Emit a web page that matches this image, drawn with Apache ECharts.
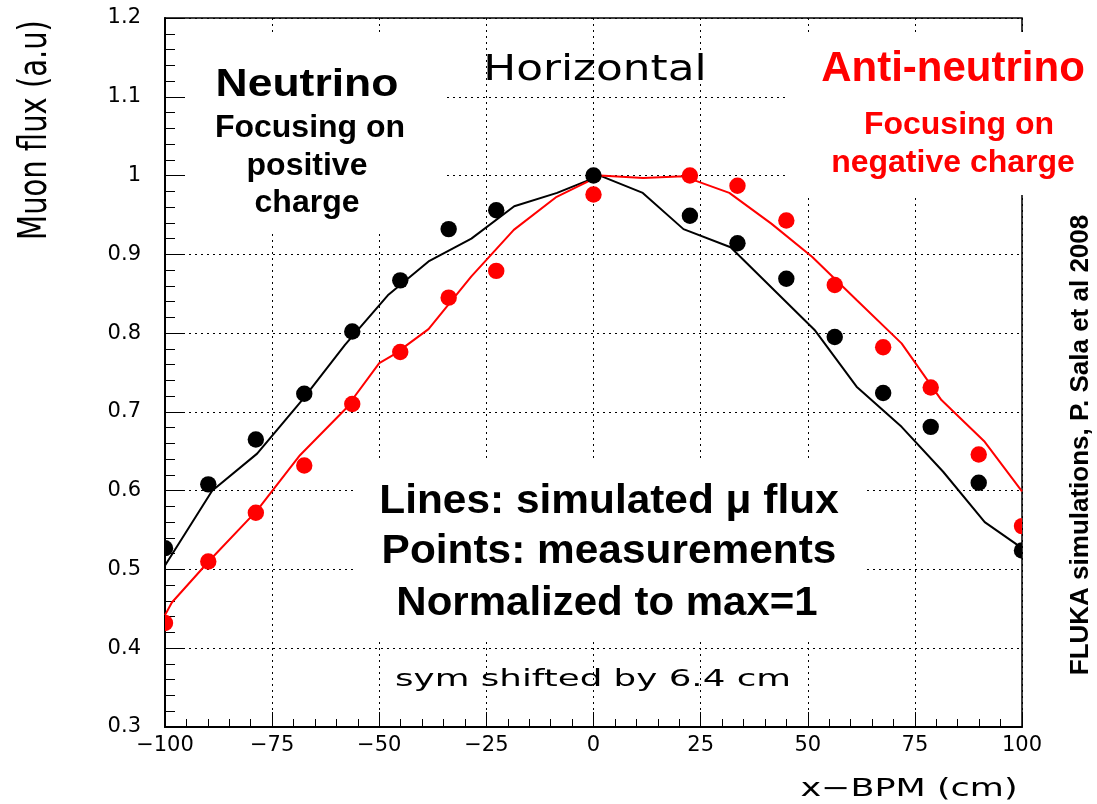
<!DOCTYPE html>
<html>
<head>
<meta charset="utf-8">
<script src="https://cdn.jsdelivr.net/npm/echarts@6/dist/echarts.min.js"></script>
<style>
  html, body { margin: 0; padding: 0; background: #fff; }
  #muonChart { width: 1097px; height: 804px; }
</style>
</head>
<body>
<div id="muonChart"></div>
<script>
// axis ranges
var xMin = -100, xMax = 100, xStep = 25;
var yMin = 0.3, yMax = 1.2, yStep = 0.1;

// simulated flux (lines), neutrino = black, anti-neutrino = red
var simX_nu = [-100, -89, -78.5, -68, -58, -48, -38.5, -28.5, -18.5, -8.5, 1.5, 11.5, 21, 32, 51.6, 61.4, 71.9, 81.6, 91.3, 100];
var simY_nu = [0.505, 0.600, 0.647, 0.715, 0.785, 0.848, 0.891, 0.920, 0.961, 0.978, 1.0, 0.978, 0.932, 0.909, 0.804, 0.732, 0.681, 0.624, 0.560, 0.527];

var simX_anu = [-100, -98.4, -89.5, -78.5, -68.5, -58, -50, -46.5, -38.5, -28.5, -18.6, -8.6, 1.5, 11.6, 21, 31.7, 41.5, 51, 61.4, 71.9, 81.2, 91.3, 100];
var simY_anu = [0.442, 0.458, 0.512, 0.575, 0.645, 0.703, 0.762, 0.773, 0.805, 0.872, 0.931, 0.973, 1.0, 0.997, 0.999, 0.978, 0.939, 0.897, 0.842, 0.787, 0.715, 0.662, 0.599];

// measurements (points)
var measX = [-100, -89.9, -78.8, -67.5, -56.3, -45.1, -33.8, -22.7, 0, 22.5, 33.6, 45, 56.3, 67.6, 78.7, 89.9, 100];
var measY_nu = [0.527, 0.608, 0.665, 0.723, 0.802, 0.867, 0.932, 0.956, 1.0, 0.949, 0.914, 0.869, 0.795, 0.724, 0.681, 0.610, 0.524];
var measY_anu = [0.432, 0.510, 0.572, 0.632, 0.710, 0.776, 0.845, 0.879, 0.976, 1.0, 0.987, 0.943, 0.861, 0.782, 0.731, 0.646, 0.555];

function zip(xs, ys) {
  return xs.map(function (x, i) { return [x, ys[i]]; });
}

var rootFont = '"DejaVu Sans"';
var boldFont = '"Liberation Sans"';

// filled dot; dots sitting on the frame are cut in half like in the original plot
function dotRender(color) {
  return function (params, api) {
    var xv = api.value(0);
    var p = api.coord([xv, api.value(1)]);
    var r = 8.2;
    if (xv <= xMin) {
      return { type: 'sector', shape: { cx: p[0], cy: p[1], r0: 0, r: r, startAngle: -Math.PI / 2, endAngle: Math.PI / 2, clockwise: true }, style: { fill: color } };
    }
    if (xv >= xMax) {
      return { type: 'sector', shape: { cx: p[0], cy: p[1], r0: 0, r: r, startAngle: Math.PI / 2, endAngle: Math.PI * 1.5, clockwise: true }, style: { fill: color } };
    }
    return { type: 'circle', shape: { cx: p[0], cy: p[1], r: r }, style: { fill: color } };
  };
}

function label(text, x, y, font, color, opts) {
  var o = {
    type: 'text',
    x: x, y: y,
    z: 10,
    style: {
      text: text,
      font: font,
      fill: color,
      textAlign: 'center',
      textVerticalAlign: 'middle'
    }
  };
  if (opts) { for (var k in opts) o[k] = opts[k]; }
  return o;
}

function whiteBox(x, y, w, h) {
  return { type: 'rect', z: 1, shape: { x: x, y: y, width: w, height: h }, style: { fill: '#fff' } };
}

var chart = echarts.init(document.getElementById('muonChart'));

var options = {
  backgroundColor: '#fff',
  animation: false,
  grid: {
    left: 165, right: 75, top: 18, bottom: 77,
    show: true,
    borderColor: '#000',
    borderWidth: 1.5,
    backgroundColor: 'transparent'
  },
  xAxis: {
    type: 'value',
    min: xMin, max: xMax, interval: xStep,
    axisLine: { show: true, onZero: false, lineStyle: { color: '#000', width: 2 } },
    axisTick: { show: true, inside: true, length: 15, lineStyle: { color: '#000', width: 1 } },
    minorTick: { show: true, splitNumber: 5, length: 8, lineStyle: { color: '#000', width: 1 } },
    axisLabel: {
      color: '#000', fontFamily: rootFont, fontSize: 21, margin: 8,
      formatter: function (v) { return v < 0 ? '\u2212' + (-v) : String(v); }
    },
    splitLine: { show: true, lineStyle: { color: '#000', width: 1, type: [2, 4] } }
  },
  yAxis: {
    type: 'value',
    min: yMin, max: yMax, interval: yStep,
    axisLine: { show: true, onZero: false, lineStyle: { color: '#000', width: 2 } },
    axisTick: { show: true, inside: true, length: 18, lineStyle: { color: '#000', width: 1 } },
    minorTick: { show: true, splitNumber: 5, length: 10, lineStyle: { color: '#000', width: 1 } },
    axisLabel: { color: '#000', fontFamily: rootFont, fontSize: 21, margin: 24 },
    splitLine: { show: true, lineStyle: { color: '#000', width: 1, type: [2, 4] } }
  },
  series: [
    {
      name: 'sim neutrino', type: 'line', data: zip(simX_nu, simY_nu),
      showSymbol: false, z: 3,
      lineStyle: { color: '#000', width: 2 }
    },
    {
      name: 'sim anti-neutrino', type: 'line', data: zip(simX_anu, simY_anu),
      showSymbol: false, z: 3,
      lineStyle: { color: '#ff0000', width: 2 }
    },
    {
      name: 'meas neutrino', type: 'custom', data: zip(measX, measY_nu),
      encode: { x: 0, y: 1 }, z: 4,
      renderItem: dotRender('#000')
    },
    {
      name: 'meas anti-neutrino', type: 'custom', data: zip(measX, measY_anu),
      encode: { x: 0, y: 1 }, z: 4,
      renderItem: dotRender('#ff0000')
    }
  ],
  graphic: [
    // white areas behind the slide texts (hide grid there)
    whiteBox(186, 33, 258, 200),
    whiteBox(787, 32, 260, 163),
    whiteBox(353, 458, 512, 182),

    label('Horizontal', 595, 71, '35px ' + rootFont, '#000', { scaleX: 1.25 }),
    label('sym shifted by 6.4 cm', 593, 680, '23px ' + rootFont, '#000', { scaleX: 1.55 }),
    label('x\u2212BPM (cm)', 909, 789, '25px ' + rootFont, '#000', { scaleX: 1.4 }),
    label('Muon flux (a.u)', 36, 130, '29px ' + rootFont, '#000', { rotation: Math.PI / 2, scaleY: 1.35 }),

    label('Neutrino', 307, 86, 'bold 38px ' + boldFont, '#000', { scaleX: 1.17 }),
    label('Focusing on', 310, 128, 'bold 32px ' + boldFont, '#000'),
    label('positive', 307, 166, 'bold 32px ' + boldFont, '#000'),
    label('charge', 307, 203, 'bold 32px ' + boldFont, '#000'),

    label('Anti-neutrino', 953, 69, 'bold 42px ' + boldFont, '#ff0000'),
    label('Focusing on', 959, 125, 'bold 32px ' + boldFont, '#ff0000'),
    label('negative charge', 953, 163, 'bold 32px ' + boldFont, '#ff0000'),

    label('Lines: simulated \u03bc flux', 609, 502, 'bold 40px ' + boldFont, '#000', { scaleX: 1.06 }),
    label('Points: measurements', 609, 552, 'bold 40px ' + boldFont, '#000', { scaleX: 1.06 }),
    label('Normalized to max=1', 607, 604, 'bold 40px ' + boldFont, '#000', { scaleX: 1.05 }),

    label('FLUKA simulations, P. Sala et al 2008', 1081, 445, 'bold 26px ' + boldFont, '#000', { rotation: Math.PI / 2 })
  ]
};

chart.setOption(options);
</script>
</body>
</html>
